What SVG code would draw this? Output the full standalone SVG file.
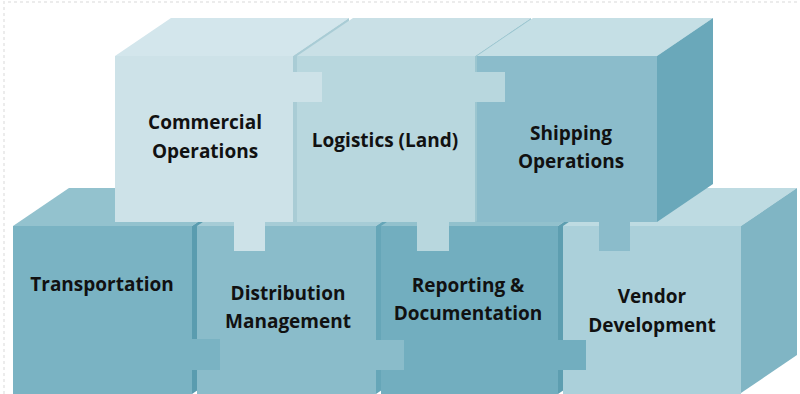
<svg xmlns="http://www.w3.org/2000/svg" width="800" height="394" viewBox="0 0 800 394">
<style>
.lbl{font-family:"Open Sans",Lato,"Liberation Sans",sans-serif;font-weight:bold;font-size:19px;fill:#111;text-anchor:middle}
.edge{fill:none;stroke:#ececec;stroke-width:2;stroke-dasharray:3 3}
</style>
<rect width="800" height="394" fill="#ffffff"/>
<path class="edge" d="M4 394 V2 H800"/>
<!-- bottom row -->
<g id="transportation">
<polygon points="13,226 192,226 248,188 69,188" fill="#93c2ce"/>
<polygon points="192,226 248,188 248,356 192,394" fill="#5a9caf"/>
<rect x="13" y="226" width="179" height="168" fill="#7ab3c3"/>
<text class="lbl" x="102" y="291">Transportation</text>
</g>
<g id="distribution">
<polygon points="197,226 376,226 432,188 253,188" fill="#a6ccd6"/>
<polygon points="376,226 432,188 432,356 376,394" fill="#66a6b8"/>
<rect x="197" y="226" width="179" height="168" fill="#8abcca"/>
<text class="lbl" x="288" y="300">Distribution</text>
<text class="lbl" x="288" y="328">Management</text>
</g>
<g id="reporting">
<polygon points="381,226 558,226 614,188 437,188" fill="#92c1cd"/>
<polygon points="558,226 614,188 614,356 558,394" fill="#5d9eb0"/>
<rect x="381" y="226" width="177" height="168" fill="#72aebf"/>
<text class="lbl" x="468" y="292">Reporting &amp;</text>
<text class="lbl" x="468" y="320">Documentation</text>
</g>
<g id="vendor">
<polygon points="563,226 741,226 797,188 619,188" fill="#bedbe2"/>
<polygon points="741,226 797,188 797,355 741,393" fill="#80b5c4"/>
<rect x="563" y="226" width="178" height="168" fill="#abd0da"/>
<text class="lbl" x="652" y="303">Vendor</text>
<text class="lbl" x="652" y="332">Development</text>
</g>
<!-- top row -->
<g id="commercial">
<polygon points="115,56 293,56 349,18 171,18" fill="#d3e6ec"/>
<polygon points="293,56 349,18 349,184 293,222" fill="#a9ccd5"/>
<rect x="115" y="56" width="178" height="166" fill="#cde2e8"/>
<text class="lbl" x="205" y="129">Commercial</text>
<text class="lbl" x="205" y="158">Operations</text>
</g>
<g id="logistics">
<polygon points="297,56 475,56 531,18 353,18" fill="#c9e0e6"/>
<polygon points="475,56 531,18 531,184 475,222" fill="#9cc6d0"/>
<rect x="297" y="56" width="178" height="166" fill="#b8d7de"/>
<text class="lbl" x="385" y="147">Logistics (Land)</text>
</g>
<g id="shipping">
<polygon points="477,56 657,56 713,18 533,18" fill="#c5dfe5"/>
<polygon points="657,56 713,18 713,184 657,222" fill="#6aa8ba"/>
<rect x="477" y="56" width="180" height="166" fill="#8bbccb"/>
<text class="lbl" x="571" y="140">Shipping</text>
<text class="lbl" x="571" y="168">Operations</text>
</g>
<!-- puzzle tabs joining the pieces -->
<g id="connectors">
<rect x="293" y="72" width="29" height="30" fill="#cde2e8"/>
<rect x="475" y="72" width="30" height="30" fill="#b8d7de"/>
<rect x="192" y="339" width="28" height="31" fill="#7ab3c3"/>
<rect x="376" y="340" width="28" height="30" fill="#8abcca"/>
<rect x="558" y="340" width="28" height="30" fill="#72aebf"/>
<rect x="234" y="221" width="31" height="30" fill="#cde2e8"/>
<rect x="417" y="221" width="32" height="30" fill="#b8d7de"/>
<rect x="599" y="221" width="31" height="30" fill="#8bbccb"/>
</g>
</svg>
